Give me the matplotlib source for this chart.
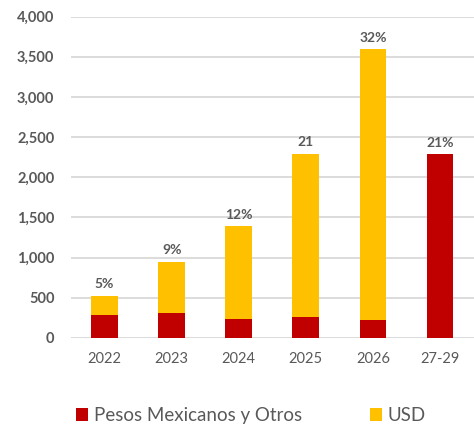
import numpy as np
import matplotlib
matplotlib.use("Agg")
import matplotlib.pyplot as plt

categories = ["2022", "2023", "2024", "2025", "2026", "27-29"]
pesos = [290, 310, 230, 262, 220, 2285]
usd = [235, 640, 1158, 2031, 3374, 0]
top_labels = ["5%", "9%", "12%", "21", "32%", "21%"]

RED = "#c00000"
GOLD = "#ffc000"
GREY = "#595959"

plt.rcParams["font.family"] = ["Lato", "DejaVu Sans"]

fig = plt.figure(figsize=(4.74, 4.26), dpi=100)
ax = fig.add_axes([0.15, 0.207, 0.849, 0.754])

x = np.arange(len(categories))
ax.bar(x, pesos, width=0.4, color=RED, label="Pesos Mexicanos y Otros", zorder=3)
ax.bar(x, usd, width=0.4, bottom=pesos, color=GOLD, label="USD", zorder=3)

totals = np.array(pesos) + np.array(usd)
for xi, t, lab in zip(x, totals, top_labels):
    ax.text(xi, t + 70, lab, ha="center", va="bottom", fontsize=10,
            fontweight="bold", color=GREY)

ax.set_ylim(0, 4000)
ax.set_xlim(-0.5, len(categories) - 0.5)
ax.set_yticks(range(0, 4001, 500))
ax.set_yticklabels([f"{v:,}" for v in range(0, 4001, 500)], fontsize=10.5,
                   fontweight="bold", color=GREY)
ax.set_xticks(x)
ax.set_xticklabels(categories, fontsize=10.5, color=GREY)
ax.tick_params(length=0)
ax.tick_params(axis="x", pad=10)
ax.tick_params(axis="y", pad=12)
ax.yaxis.grid(True, color="#d9d9d9", linewidth=1.3, zorder=0)
for s in ax.spines.values():
    s.set_visible(False)

fig.legend(loc="lower left", bbox_to_anchor=(0.125, -0.035), ncol=2, frameon=False,
           fontsize=13.5, handlelength=0.65, handleheight=0.65, handletextpad=0.3,
           columnspacing=3.6, labelcolor=GREY)

fig.savefig("out.png", dpi=100)
